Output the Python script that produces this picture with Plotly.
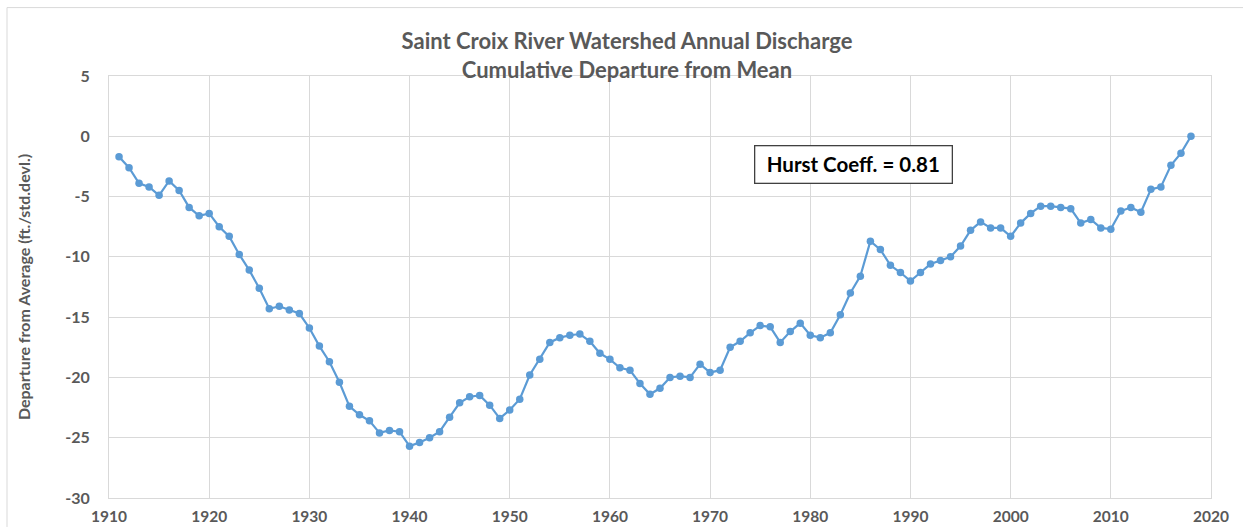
import plotly.graph_objects as go

years = list(range(1911, 2019))
departure = [
    -1.7, -2.6, -3.9, -4.2, -4.9, -3.7, -4.5, -5.9, -6.6, -6.4,   # 1911-1920
    -7.5, -8.3, -9.8, -11.1, -12.6, -14.3, -14.1, -14.4, -14.7, -15.9,  # 1921-1930
    -17.4, -18.7, -20.4, -22.4, -23.1, -23.6, -24.6, -24.4, -24.5, -25.7,  # 1931-1940
    -25.4, -25.0, -24.5, -23.3, -22.1, -21.6, -21.5, -22.3, -23.4, -22.7,  # 1941-1950
    -21.8, -19.8, -18.5, -17.1, -16.7, -16.5, -16.4, -17.0, -18.0, -18.5,  # 1951-1960
    -19.2, -19.4, -20.5, -21.4, -20.9, -20.0, -19.9, -20.0, -18.9, -19.6,  # 1961-1970
    -19.4, -17.5, -17.0, -16.3, -15.7, -15.8, -17.1, -16.2, -15.5, -16.5,  # 1971-1980
    -16.7, -16.3, -14.8, -13.0, -11.6, -8.7, -9.4, -10.7, -11.3, -12.0,   # 1981-1990
    -11.3, -10.6, -10.3, -10.0, -9.1, -7.8, -7.1, -7.6, -7.6, -8.3,      # 1991-2000
    -7.2, -6.4, -5.8, -5.8, -5.9, -6.0, -7.2, -6.9, -7.6, -7.7,          # 2001-2010
    -6.2, -5.9, -6.3, -4.4, -4.2, -2.4, -1.4, 0.0,                       # 2011-2018
]

x_ticks = list(range(1910, 2021, 10))
y_ticks = list(range(-30, 6, 5))

title_lines = ["Saint Croix River Watershed Annual Discharge",
               "Cumulative Departure from Mean"]
y_title = "Departure from Average (ft./std.devl.)"
note_text = "Hurst Coeff. = 0.81"

W, H = 1243, 527
L, R, T, B = 109, 1211, 75.5, 498
ml, mr, mt, mb = L, W - R, T, H - B


def px_x(px):
    return (px - L) / (R - L)


def px_y(py):
    return (B - py) / (B - T)


grid = "#D9D9D9"
txt = "#595959"
font_family = "Lato"

fig = go.Figure()
fig.add_trace(go.Scatter(
    x=years, y=departure, mode="lines+markers",
    line=dict(color="#5B9BD5", width=2.2),
    marker=dict(color="#5B9BD5", size=7.5),
    showlegend=False,
))

fig.update_layout(
    width=W, height=H,
    margin=dict(l=ml, r=mr, t=mt, b=mb, autoexpand=False),
    paper_bgcolor="white", plot_bgcolor="white",
    font=dict(family=font_family, color=txt),
    title=dict(
        text="<br>".join("<b>" + s + "</b>" for s in title_lines),
        x=px_x(627), xref="paper", xanchor="center",
        y=1 - 49 / H, yanchor="middle",
        font=dict(family=font_family, size=22, color=txt),
    ),
    xaxis=dict(
        range=[1910, 2020], tickvals=x_ticks, ticktext=[str(v) for v in x_ticks],
        showgrid=True, gridcolor=grid, gridwidth=1,
        showline=True, linecolor=grid, mirror=True, zeroline=False,
        ticks="", ticklabelstandoff=4,
        tickfont=dict(family=font_family, size=15.5, color=txt, weight="bold"),
    ),
    yaxis=dict(
        range=[-30, 5], tickvals=y_ticks, ticktext=[str(v) for v in y_ticks],
        showgrid=True, gridcolor=grid, gridwidth=1,
        showline=True, linecolor=grid, mirror=True, zeroline=False,
        ticks="", ticklabelstandoff=15,
        tickfont=dict(family=font_family, size=16, color=txt, weight="bold"),
        title=dict(text="<b>" + y_title + "</b>", standoff=30,
                   font=dict(family=font_family, size=16, color=txt)),
    ),
    annotations=[dict(
        text="<b>" + note_text + "</b>",
        xref="paper", yref="paper",
        x=px_x(853), y=px_y(164.5), xanchor="center", yanchor="middle",
        showarrow=False,
        font=dict(family=font_family, size=20.5, color="black"),
        width=188, height=28, borderpad=4, align="center",
        bordercolor="#404040", borderwidth=1.3,
        bgcolor="white",
    )],
    shapes=[
        dict(type="line", xref="paper", yref="paper",
             x0=px_x(7), x1=px_x(1243), y0=px_y(7), y1=px_y(7),
             line=dict(color=grid, width=1)),
        dict(type="line", xref="paper", yref="paper",
             x0=px_x(7), x1=px_x(7), y0=px_y(7), y1=px_y(527),
             line=dict(color=grid, width=1)),
    ],
)

fig.write_html("out.html", config={"displayModeBar": False},
               post_script="document.body.style.margin='0';")
